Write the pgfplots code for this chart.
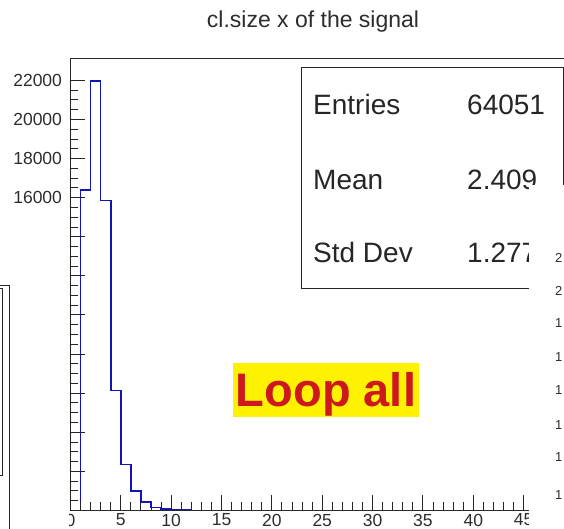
\documentclass[border={-100pt -100pt -136pt -172pt}]{standalone}
\usepackage{fontspec}
\setmainfont{Liberation Sans}
\usepackage{pgfplots}
\pgfplotsset{compat=1.18}
\definecolor{histblue}{RGB}{20,20,175}
\definecolor{labelgray}{RGB}{45,45,45}
\definecolor{loopred}{RGB}{205,25,30}
\definecolor{loopyellow}{RGB}{255,242,0}

\begin{document}
\begin{tikzpicture}[x=1pt,y=1pt]
% frame that sets the page once the border is cut away
\path (-100,-100) rectangle (700,700);
\begin{axis}[
    at={(70,9)}, anchor=south west, % y of at comes out doubled here
    scale only axis, width=503.5pt, height=452pt,
    xmin=0, xmax=50, ymin=0, ymax=23126,
    axis on top,
    tick align=inside, tick pos=left,
    xtick={0,5,...,45}, minor x tick num=4,
    ytick={0,2000,...,22000}, minor y tick num=3,
    major tick length=15pt, minor tick length=8pt,
    scaled y ticks=false,
    /pgf/number format/1000 sep={},
    /pgf/number format/assume math mode=true,
    ticklabel style={font=\fontsize{17.5}{17.5}\selectfont, text=labelgray},
    yticklabel style={xshift=-5pt},
    axis line style={line width=1pt, black!85},
    every tick/.style={line width=1pt, black!85},
]
% cluster size x, signal
\addplot[const plot, histblue, line width=1.6pt] coordinates {
    (0,0) (1,16400) (2,21980) (3,15860) (4,6140) (5,2350) (6,990)
    (7,425) (8,150) (9,60) (10,30) (11,20) (12,0) (50,0)
};
\end{axis}

% title
\node[anchor=base, font=\fontsize{23}{23}\selectfont, text=labelgray]
    at (313,500.7) {cl.size x of the signal};

% stats box
\draw[fill=white, draw=black!85, line width=1pt] (301,460) rectangle (563,240);
\begin{scope}[every node/.style={font=\fontsize{28}{28}\selectfont, text=black!85, inner sep=0pt}]
\node[anchor=base west] at (313,413) {Entries};
\node[anchor=base west] at (467,413) {64051};
\node[anchor=base west] at (313,338) {Mean};
\node[anchor=base west] at (467,338) {2.409};
\node[anchor=base west] at (313,266) {Std Dev};
\node[anchor=base west] at (467,266) {1.277};
\end{scope}

% label
\fill[loopyellow] (233,165) rectangle (419,111);
\node[anchor=base, font=\bfseries\fontsize{47}{47}\selectfont, text=loopred, inner sep=0pt]
    at (326,121.3) {Loop all};

% overlapping windows
\fill[white] (529,-30) rectangle (600,343);
\begin{scope}[every node/.style={font=\fontsize{13}{13}\selectfont, text=labelgray, inner sep=0pt, anchor=west}]
\node at (555,270) {2};
\node at (555,237) {2};
\node at (555,205) {1};
\node at (555,171) {1};
\node at (555,138) {1};
\node at (555,103) {1};
\node at (555,71) {1};
\node at (555,33) {1};
\end{scope}
\fill[white] (-20,-30) rectangle (69,299);
\draw[line width=1pt, black!85] (0,243) -- (9.3,243) -- (9.3,-2);
\draw[line width=1pt, black!85] (-2,240) -- (2,240) -- (2,53) -- (-2,53);
\end{tikzpicture}
\end{document}
